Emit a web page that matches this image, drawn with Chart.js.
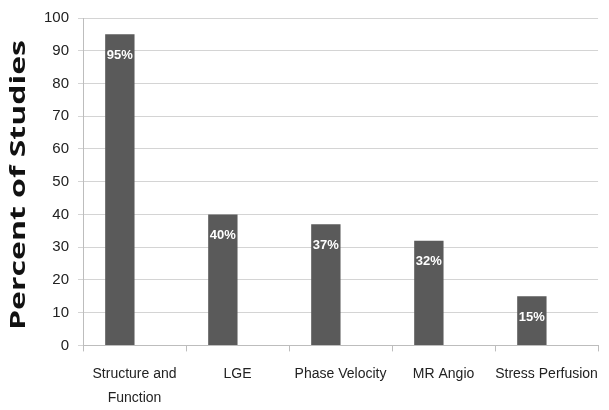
<!DOCTYPE html>
<html>
<head>
<meta charset="utf-8">
<script src="https://cdn.jsdelivr.net/npm/chart.js@4.4.1/dist/chart.umd.min.js"></script>
<style>
  html, body { margin: 0; padding: 0; background: #fff; }
  #wrap { width: 609px; height: 410px; position: relative; }
</style>
</head>
<body>
<div id="wrap"><canvas id="myChart"></canvas></div>
<script>
// values
const categories = [["Structure and", "Function"], "LGE", "Phase Velocity", "MR Angio", "Stress Perfusion"];
const studyPercent = [95, 40, 37, 32, 15];
const emptySeries = [null, null, null, null, null];
const yTicks = [0, 10, 20, 30, 40, 50, 60, 70, 80, 90, 100];
const yTitle = "Percent of Studies";

const sans = "'Liberation Sans', Arial, sans-serif";

// white percentage label near the top of each bar
const barLabels = {
  id: "barLabels",
  afterDatasetsDraw(chart) {
    const ctx = chart.ctx;
    const meta = chart.getDatasetMeta(0);
    ctx.save();
    ctx.fillStyle = "#ffffff";
    ctx.font = "bold 13px " + sans;
    ctx.textAlign = "center";
    ctx.textBaseline = "middle";
    meta.data.forEach((bar, i) => {
      ctx.fillText(studyPercent[i] + "%", bar.x, bar.y + 21);
    });
    ctx.restore();
  }
};

// the y title in the original is wide and stretched, so draw it by hand
const stretchedTitle = {
  id: "stretchedTitle",
  afterDraw(chart) {
    const ctx = chart.ctx;
    ctx.save();
    ctx.font = "bold 22px 'Open Sans', sans-serif";
    ctx.fillStyle = "#111";
    ctx.textAlign = "center";
    ctx.textBaseline = "middle";
    const w = ctx.measureText(yTitle).width;
    ctx.translate(19, 185);
    ctx.rotate(-Math.PI / 2);
    ctx.scale(290 / w, 1);
    ctx.fillText(yTitle, 0, 0);
    ctx.restore();
  }
};

const chart = new Chart(document.getElementById("myChart"), {
  type: "bar",
  data: {
    labels: categories,
    datasets: [
      {
        label: "Percent of Studies",
        data: studyPercent,
        backgroundColor: "#5a5a5a",
        borderWidth: 0,
        barPercentage: 1,
        categoryPercentage: 0.57
      },
      {
        label: "",
        data: emptySeries,
        backgroundColor: "rgba(0,0,0,0)",
        barPercentage: 1,
        categoryPercentage: 0.57
      }
    ]
  },
  options: {
    responsive: true,
    maintainAspectRatio: false,
    animation: false,
    layout: { padding: { top: 3, right: 1, left: 35, bottom: -11 } },
    plugins: {
      legend: { display: false },
      tooltip: { enabled: false }
    },
    scales: {
      x: {
        grid: { display: true, drawOnChartArea: false, drawTicks: true, tickLength: 6, color: "#bdbdbd" },
        border: { color: "#bdbdbd" },
        ticks: {
          color: "#222",
          font: { family: sans, size: 14, lineHeight: 1.7 },
          maxRotation: 0,
          autoSkip: false,
          padding: 11
        }
      },
      y: {
        min: 0,
        max: 100,
        afterBuildTicks(axis) {
          axis.ticks = yTicks.map(v => ({ value: v }));
        },
        grid: { color: "#d4d4d4", tickLength: 5 },
        border: { color: "#bdbdbd" },
        ticks: {
          color: "#222",
          font: { family: sans, size: 15 },
          padding: 9
        }
      }
    }
  },
  plugins: [barLabels, stretchedTitle]
});
</script>
</body>
</html>
